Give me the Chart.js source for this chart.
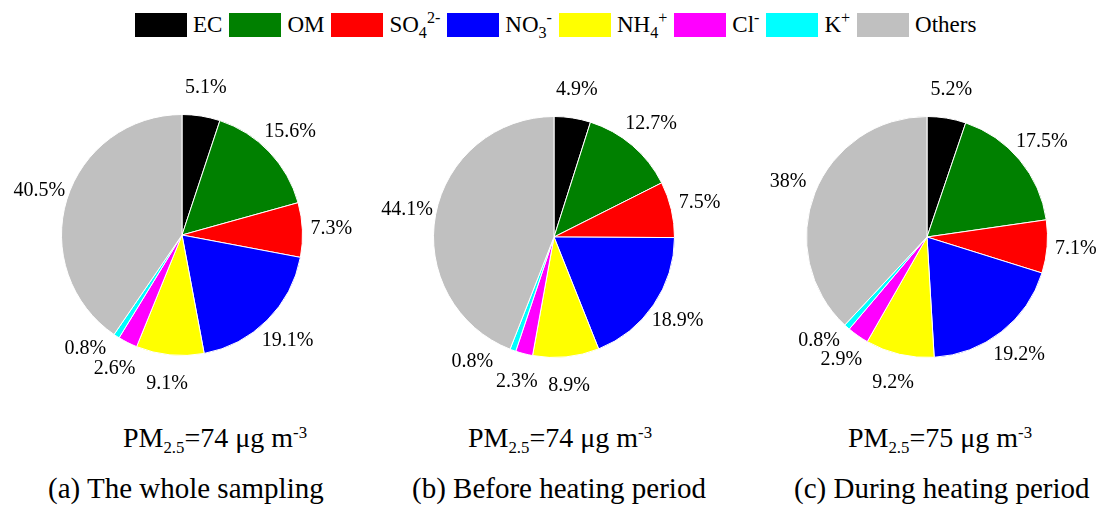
<!DOCTYPE html>
<html>
<head>
<meta charset="utf-8">
<script src="https://cdn.jsdelivr.net/npm/chart.js@4.4.0/dist/chart.umd.min.js"></script>
<style>
body { margin:0; width:1109px; height:508px; background:#fff; position:relative; overflow:hidden;
       font-family:"Liberation Serif", "Times New Roman", serif; color:#000; }
canvas { position:absolute; }
#legend { position:absolute; left:135px; top:13px; height:24px; display:flex; align-items:center; font-size:23px; }
.box { width:52px; height:24px; margin-right:6px; }
.lbl { margin-right:7px; white-space:nowrap; line-height:24px; }
sub, sup { font-size:70%; vertical-align:baseline; position:relative; line-height:0; }
sub { top:0.35em; }
sup { top:-0.55em; }
.pm { position:absolute; font-size:28px; line-height:1; white-space:nowrap; }
.pm sub, .pm sup { font-size:60%; }
.cap { position:absolute; font-size:29px; line-height:1; white-space:nowrap; }
</style>
</head>
<body>
<div id="legend"></div>
<canvas id="pie0" width="364" height="352"></canvas>
<canvas id="pie1" width="364" height="352"></canvas>
<canvas id="pie2" width="364" height="352"></canvas>

<script>
// species (legend text split into base / subscript / superscript)
var names = ["EC", "OM", "SO", "NO", "NH", "Cl", "K", "Others"];
var subs  = ["", "", "4", "3", "4", "", "", ""];
var sups  = ["", "", "2-", "-", "+", "-", "+", ""];
var colors = ["#000000", "#008000", "#ff0000", "#0000ff", "#ffff00", "#ff00ff", "#00ffff", "#c0c0c0"];

// mass fractions (%)
var wholeSampling = [5.1, 15.6, 7.3, 19.1, 9.1, 2.6, 0.8, 40.5];
var beforeHeating = [4.9, 12.7, 7.5, 18.9, 8.9, 2.3, 0.8, 44.1];
var duringHeating = [5.2, 17.5, 7.1, 19.2, 9.2, 2.9, 0.8, 38];

var pm25 = [74, 74, 75];
var panelTitles = ["(a) The whole sampling", "(b) Before heating period", "(c) During heating period"];

// where each panel goes on the page
var panelLeft = [0, 372, 745];
var panelTop = [59, 61, 61];
var pmLeft = [123, 468, 848];
var capLeft = [48, 412, 794];

// legend
var legend = document.getElementById("legend");
for (var i = 0; i < names.length; i++) {
    var b = document.createElement("div");
    b.className = "box";
    b.style.background = colors[i];
    legend.appendChild(b);
    var t = document.createElement("div");
    t.className = "lbl";
    var html = names[i];
    if (subs[i]) html += "<sub>" + subs[i] + "</sub>";
    if (sups[i]) html += "<sup>" + sups[i] + "</sup>";
    t.innerHTML = html;
    legend.appendChild(t);
}

// percent labels outside the slices, nudged on if they bump into the previous one
var outLabels = {
    id: "outLabels",
    afterDatasetsDraw: function(chart) {
        var ctx = chart.ctx;
        var meta = chart.getDatasetMeta(0);
        var data = chart.data.datasets[0].data;
        ctx.save();
        ctx.font = '20px "Liberation Serif"';
        ctx.fillStyle = "#000";
        ctx.textAlign = "center";
        ctx.textBaseline = "middle";
        var placed = [];
        meta.data.forEach(function(arc, i) {
            var p = arc.getProps(["x", "y", "startAngle", "endAngle", "outerRadius"], true);
            var text = data[i] + "%";
            var w = ctx.measureText(text).width;
            var a = (p.startAngle + p.endAngle) / 2;
            var r = p.outerRadius * 1.24;
            var lx, ly, tries = 0;
            while (true) {
                lx = p.x + Math.cos(a) * r;
                ly = p.y + Math.sin(a) * r;
                var hit = placed.some(function(q) {
                    return Math.abs(q.x - lx) < (q.w + w) / 2 + 2 && Math.abs(q.y - ly) < 19;
                });
                if (!hit || tries > 80) break;
                a += 0.01;
                tries++;
            }
            placed.push({ x: lx, y: ly, w: w });
            ctx.fillText(text, lx, ly);
        });
        ctx.restore();
    }
};

var series = [wholeSampling, beforeHeating, duringHeating];
for (var k = 0; k < 3; k++) {
    var cv = document.getElementById("pie" + k);
    cv.style.left = panelLeft[k] + "px";
    cv.style.top = panelTop[k] + "px";
    new Chart(cv, {
        type: "pie",
        data: {
            labels: names,
            datasets: [{
                data: series[k],
                backgroundColor: colors,
                borderColor: "#ffffff",
                borderWidth: 1
            }]
        },
        options: {
            responsive: false,
            animation: false,
            layout: { padding: { left: 61, right: 61, top: 55, bottom: 55 } },
            plugins: { legend: { display: false }, tooltip: { enabled: false } }
        },
        plugins: [outLabels]
    });

    var pm = document.createElement("div");
    pm.className = "pm";
    pm.style.left = pmLeft[k] + "px";
    pm.style.top = "424px";
    pm.innerHTML = "PM<sub>2.5</sub>=" + pm25[k] + " \u03bcg m<sup>-3</sup>";
    document.body.appendChild(pm);

    var cap = document.createElement("div");
    cap.className = "cap";
    cap.style.left = capLeft[k] + "px";
    cap.style.top = "474px";
    cap.textContent = panelTitles[k];
    document.body.appendChild(cap);
}
</script>
</body>
</html>
